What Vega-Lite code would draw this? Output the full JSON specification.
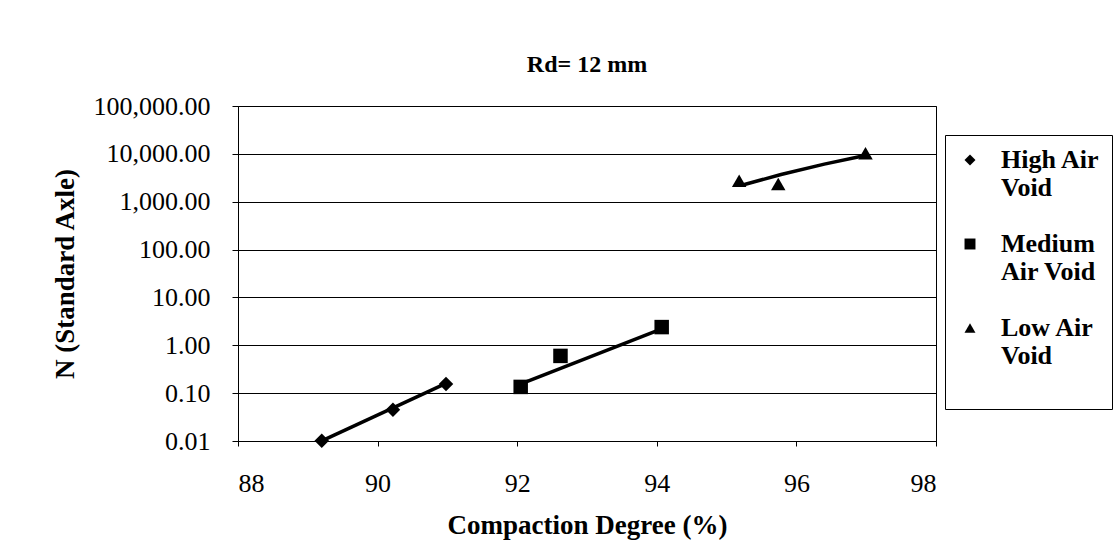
{
  "$schema": "https://vega.github.io/schema/vega-lite/v6.json",
  "width": 698,
  "height": 335,
  "autosize": {"type": "none"},
  "padding": {"left": 238, "top": 106, "right": 184, "bottom": 110},
  "background": "white",
  "title": {"text": "Rd= 12 mm", "font": "Liberation Serif", "fontSize": 24, "fontWeight": "bold", "color": "black", "anchor": "middle", "baseline": "alphabetic", "offset": -3},
  "config": {
    "view": {"stroke": "black", "strokeWidth": 1},
    "axis": {"labelFont": "Liberation Serif", "labelFontSize": 26, "labelColor": "black", "titleFont": "Liberation Serif", "titleFontSize": 27, "titleFontWeight": "bold", "titleColor": "black", "domainColor": "black", "tickColor": "black"}
  },
  "datasets": {
    "points": [
      {"series": "High Air Void", "cd": 89.2, "n": 0.0101},
      {"series": "High Air Void", "cd": 90.22, "n": 0.045},
      {"series": "High Air Void", "cd": 90.98, "n": 0.155},
      {"series": "Medium Air Void", "cd": 92.05, "n": 0.135},
      {"series": "Medium Air Void", "cd": 92.62, "n": 0.6},
      {"series": "Medium Air Void", "cd": 94.07, "n": 2.4},
      {"series": "Low Air Void", "cd": 95.18, "n": 2750},
      {"series": "Low Air Void", "cd": 95.74, "n": 2350},
      {"series": "Low Air Void", "cd": 96.99, "n": 10300}
    ],
    "trend": [
      {"series": "High Air Void", "cd": 89.2, "n": 0.0101},
      {"series": "High Air Void", "cd": 90.98, "n": 0.16},
      {"series": "Medium Air Void", "cd": 92.1, "n": 0.165},
      {"series": "Medium Air Void", "cd": 94.07, "n": 2.2},
      {"series": "Low Air Void", "cd": 95.23, "n": 2240},
      {"series": "Low Air Void", "cd": 95.78, "n": 3700},
      {"series": "Low Air Void", "cd": 96.4, "n": 6100},
      {"series": "Low Air Void", "cd": 96.95, "n": 9000}
    ]
  },
  "layer": [
    {
      "data": {"name": "trend"},
      "mark": {"type": "line", "color": "black", "strokeWidth": 3.5},
      "encoding": {
        "x": {"field": "cd", "type": "quantitative", "scale": {"domain": [88, 98], "nice": false, "zero": false},
          "axis": {"values": [88, 90, 92, 94, 96, 98], "format": "d", "grid": false, "tickSize": 5, "labelPadding": 24, "title": "Compaction Degree (%)", "titlePadding": 16}},
        "y": {"field": "n", "type": "quantitative", "scale": {"type": "log", "domain": [0.01, 100000], "nice": false},
          "axis": {"values": [0.01, 0.1, 1, 10, 100, 1000, 10000, 100000], "format": ",.2f", "grid": true, "gridColor": "black", "gridOpacity": 1, "gridWidth": 1, "tickSize": 6, "labelPadding": 22, "title": "N (Standard Axle)", "titlePadding": 14}},
        "detail": {"field": "series"}
      }
    },
    {
      "data": {"name": "points"},
      "mark": {"type": "point", "filled": true, "color": "black", "opacity": 1, "size": 210},
      "encoding": {
        "x": {"field": "cd", "type": "quantitative"},
        "y": {"field": "n", "type": "quantitative"},
        "shape": {"field": "series", "type": "nominal",
          "scale": {"domain": ["High Air Void", "Medium Air Void", "Low Air Void"], "range": ["diamond", "square", "triangle-up"]},
          "legend": {
            "title": null, "orient": "none", "legendX": 707, "legendY": 29,
            "padding": 12, "strokeColor": "black", "fillColor": "white",
            "symbolSize": 120, "symbolFillColor": "black", "symbolStrokeColor": "black",
            "labelFont": "Liberation Serif", "labelFontSize": 26, "labelFontWeight": "bold", "labelColor": "black",
            "labelOffset": 18, "labelLimit": 200, "rowPadding": 30,
            "labelExpr": "datum.label == 'High Air Void' ? ['High Air', 'Void'] : datum.label == 'Medium Air Void' ? ['Medium', 'Air Void'] : ['Low Air', 'Void', '']",
            "encode": {
              "legend": {"update": {"strokeDash": {"value": [6, 3]}}}
            }
          }
        }
      }
    }
  ]
}
